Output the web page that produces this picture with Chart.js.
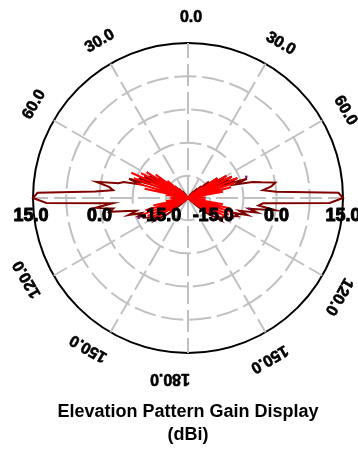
<!DOCTYPE html>
<html>
<head>
<meta charset="utf-8">
<script src="https://cdn.jsdelivr.net/npm/chart.js@4/dist/chart.umd.min.js"></script>
<style>
  html, body { margin: 0; padding: 0; background: #fff; }
  canvas { display: block; }
</style>
</head>
<body>
<canvas id="pattern" width="358" height="452"></canvas>
<script>
// Elevation angle of each sample (degrees, clockwise from zenith), 2 degree steps
const angles = Array.from({ length: 180 }, (_, i) => i * 2);

// Total gain (dBi), one value per angle; rows cover 30 degrees each
const gainTotal = [
  -20, -20, -20, -20, -20, -20, -20, -20, -20, -20, -20, -20, -20, -20, -20,
  -20, -20, -19, -20, -19, -18, -20, -17, -19, -16, -18, -14, -17, -12, -15,
  -10, -14,  -9, -12,  -8, -11,  -6,  -9,  -5,  -3,   0,  -1,  -3,   0,  14,
   15,  12,  -3,  -4,   0,  -6,  -4,  -8,  -6,  -9,  -8,  -9,  -9, -10, -11,
  -11, -12, -11, -13, -14, -16, -18, -19, -20, -20, -20, -20, -20, -20, -20,
  -20, -20, -20, -20, -20, -20, -20, -20, -20, -20, -20, -20, -20, -20, -20,
  -20, -20, -20, -20, -20, -20, -20, -20, -20, -20, -20, -20, -20, -20, -20,
  -20, -20, -20, -20, -20, -20, -20, -20, -19, -18, -16, -14, -13, -11, -12,
  -11, -11, -10,  -9,  -9,  -8,  -9,  -6,  -8,  -6,  -2,  -3,   1,  -3,  12,
   15,  14,   1,  -3,  -2,   1,  -4,  -5,  -9,  -6, -11,  -8, -12,  -9, -14,
  -10, -15, -12, -17, -14, -18, -16, -19, -17, -20, -18, -19, -20, -20, -20,
  -20, -20, -20, -20, -20, -20, -20, -20, -20, -20, -20, -20, -20, -20, -20
];

// Second polarisation component (dBi)
const gainComponent = [
  -20, -20, -20, -20, -20, -20, -20, -20, -20, -20, -20, -20, -20, -20, -20,
  -20, -20, -20, -20, -20, -20, -20, -19, -20, -18, -20, -16, -20, -12, -20,
  -10, -19,  -9, -20,  -8, -19,  -9, -20, -10, -18, -12, -20, -17, -20, -16,
  -20, -17, -20, -16, -20, -12, -20, -10, -19,  -9, -20, -10, -19, -11, -20,
  -12, -20, -14, -20, -17, -20, -20, -20, -20, -20, -20, -20, -20, -20, -20,
  -20, -20, -20, -20, -20, -20, -20, -20, -20, -20, -20, -20, -20, -20, -20,
  -20, -20, -20, -20, -20, -20, -20, -20, -20, -20, -20, -20, -20, -20, -20,
  -20, -20, -20, -20, -20, -20, -20, -20, -20, -20, -18, -20, -15, -20, -12,
  -20, -11, -20, -10, -19,  -9, -20, -10, -20, -12, -19, -15, -20, -17, -20,
  -16, -20, -17, -20, -15, -20, -10, -19,  -8, -20,  -7, -19,  -6, -20,  -8,
  -19,  -9, -20, -11, -20, -14, -20, -17, -20, -20, -20, -20, -20, -20, -20,
  -20, -20, -20, -20, -20, -20, -20, -20, -20, -20, -20, -20, -20, -20, -20
];

// Isolated marker samples: [angle, dBi]
const markerSamples = [[70, -6], [100, -6], [114, -9], [248, -8]];

// Radial rings (dBi) and the angle captions every 30 degrees
const ringValues = [-20, -15, -7.5, 0, 7.5, 15];
const angleCaptions = ['0.0', '30.0', '60.0', null, '120.0', '150.0', '180.0', '150.0', '120.0', null, '60.0', '30.0'];
const radialCaptions = [15, 0, -15];
const titleLines = ['Elevation Pattern Gain Display', '(dBi)'];

const markerData = angles.map(a => {
  const hit = markerSamples.find(s => s[0] === a);
  return hit ? hit[1] : null;
});

const FONT = '"Liberation Sans", Arial, Helvetica, sans-serif';
Chart.defaults.font.family = FONT;

// Heavy caption text: filled and lightly stroked
function heavyText(ctx, txt, x, y, w) {
  ctx.fillText(txt, x, y);
  ctx.lineWidth = w;
  ctx.strokeText(txt, x, y);
}

// Draws the rotated angle captions around the rim and the dB captions on the horizontal axis
const polarText = {
  id: 'polarText',
  afterDraw(chart, args, opts) {
    const s = chart.scales.r;
    const ctx = chart.ctx;
    const step = angles.length / angleCaptions.length;
    ctx.save();
    ctx.fillStyle = '#000';
    ctx.strokeStyle = '#000';
    ctx.lineJoin = 'round';
    ctx.textAlign = 'center';
    ctx.textBaseline = 'middle';
    ctx.font = 'bold 16px ' + FONT;
    angleCaptions.forEach((txt, k) => {
      if (!txt) return;
      const idx = k * step;
      const p = s.getPointPosition(idx, s.drawingArea + opts.rimGap);
      ctx.save();
      ctx.translate(p.x, p.y);
      ctx.rotate(s.getIndexAngle(idx));
      heavyText(ctx, txt, opts.shift[k] || 0, 0, 0.6);
      ctx.restore();
    });
    ctx.font = 'bold 18px ' + FONT;
    radialCaptions.forEach((v, k) => {
      const d = s.getDistanceFromCenterForValue(v);
      const txt = v.toFixed(1);
      const y = s.yCenter + opts.axisDrop;
      heavyText(ctx, txt, s.xCenter - d + opts.leftNudge[k], y, 1);
      heavyText(ctx, txt, s.xCenter + d + opts.rightNudge[k], y, 1);
    });
    ctx.restore();
  }
};

new Chart(document.getElementById('pattern'), {
  type: 'radar',
  data: {
    labels: angles,
    datasets: [
      {
        label: 'markers',
        data: markerData,
        showLine: false,
        pointStyle: 'rect',
        pointRadius: 1.6,
        pointBackgroundColor: '#800080',
        pointBorderColor: '#800080',
        pointBorderWidth: 0,
        order: 0
      },
      {
        label: 'component',
        data: gainComponent,
        borderColor: '#ff0000',
        borderWidth: 2,
        pointRadius: 0,
        fill: false,
        tension: 0,
        order: 1
      },
      {
        label: 'total',
        data: gainTotal,
        borderColor: '#800000',
        borderWidth: 2,
        pointRadius: 0,
        fill: false,
        tension: 0,
        order: 2
      }
    ]
  },
  options: {
    responsive: false,
    animation: false,
    events: [],
    layout: { padding: { top: 43, left: 33, right: 15, bottom: 0 } },
    plugins: {
      legend: { display: false },
      tooltip: { enabled: false },
      title: {
        display: true,
        position: 'bottom',
        text: titleLines,
        color: '#000',
        font: { size: 18, weight: 'bold', family: FONT, lineHeight: '23px' },
        padding: { top: 48, bottom: 5 }
      },
      polarText: {
        rimGap: 25,
        shift: [3, 3, 3, 0, 10, 10, 18, 11, 10, 0, 4, 2],
        axisDrop: 18,
        leftNudge: [-2, 0, -5],
        rightNudge: [0, 0, 3]
      }
    },
    scales: {
      r: {
        min: -20,
        max: 15,
        afterBuildTicks: (scale) => { scale.ticks = ringValues.map(v => ({ value: v })); },
        ticks: { display: false },
        pointLabels: { display: false },
        grid: {
          circular: true,
          color: (c) => (c.tick && c.tick.value === 15) ? '#000' : '#c0c0c0',
          lineWidth: 2
        },
        border: {
          dash: (c) => (c.tick && c.tick.value === 15) ? [] : [22, 6]
        },
        angleLines: {
          color: '#c0c0c0',
          lineWidth: (c) => (c.index % 15 === 0) ? 2 : 0,
          borderDash: [22, 6]
        }
      }
    }
  },
  plugins: [polarText]
});
</script>
</body>
</html>
